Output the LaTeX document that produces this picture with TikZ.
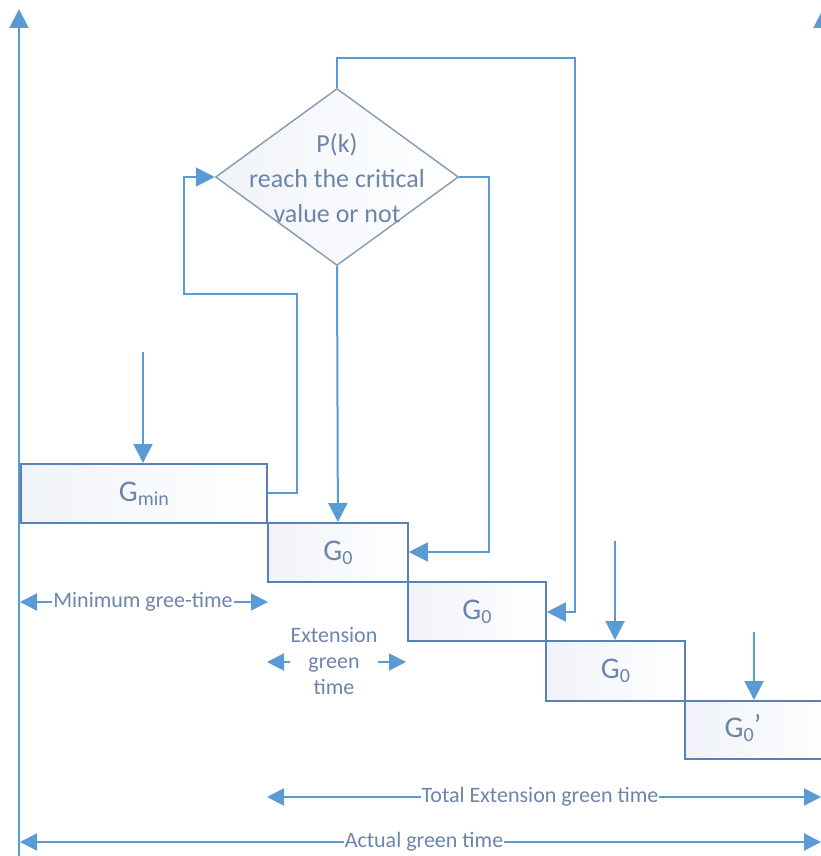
\documentclass[tikz,border=0pt]{standalone}
\usepackage{fontspec}
\setmainfont{Carlito}
\usetikzlibrary{shapes.geometric,arrows.meta}
\definecolor{linec}{RGB}{91,155,213}
\definecolor{boxc}{RGB}{88,130,182}
\definecolor{diac}{RGB}{140,158,182}
\definecolor{textc}{RGB}{108,133,170}
\definecolor{fillc}{RGB}{240,243,249}
\newcommand\mysub[1]{\raisebox{-4pt}{\fontsize{20}{20}\selectfont #1}}
\begin{document}
\begin{tikzpicture}[x=1pt,y=-1pt,
  tip/.tip={Triangle[width=19pt,length=19pt]},
  arr/.style={draw=linec,line width=2pt,-tip},
  dbl/.style={draw=linec,line width=2pt,{Triangle[width=17pt,length=17pt]}-{Triangle[width=17pt,length=17pt]}},
  box/.style={draw=boxc,line width=1.8pt,left color=fillc,right color=white,anchor=north west,inner sep=0pt,text=textc,font=\fontsize{30}{32}\selectfont},
  lab/.style={fill=white,inner sep=1pt,text=textc,font=\fontsize{22}{26}\selectfont,align=center}]
\useasboundingbox (0,0) rectangle (821,856);
% axes
\coordinate (la0) at (19,870); \coordinate (la1) at (19,9);
\coordinate (ra0) at (823,870); \coordinate (ra1) at (823,9);
\draw[arr] (la0) -- (la1);
\draw[arr] (ra0) -- (ra1);
% boxes
\node[box,minimum width=246pt,minimum height=59pt] (gmin) at (20,463) {G\mysub{min}};
\node[box,minimum width=140pt,minimum height=59pt] (g1) at (267,522) {G\mysub{0}};
\node[box,minimum width=138pt,minimum height=59pt] (g2) at (407,581) {G\mysub{0}};
\node[box,minimum width=139pt,minimum height=60pt] (g3) at (545,640) {G\mysub{0}};
\node[box,minimum width=160pt,minimum height=58pt] (g4) at (684,700) {};
\node[text=textc,font=\fontsize{30}{32}\selectfont,inner sep=0pt] (g4t) at (743,728) {G\mysub{0}\raisebox{2pt}{’}};
% diamond
\node[diamond,draw=diac,line width=1.5pt,minimum width=243pt,minimum height=177pt,inner sep=0pt,left color=fillc,right color=white] (dia) at (337,177) {};
\node[text=textc,font=\fontsize{26}{35}\selectfont,align=center] (diat) at (337,178) {P(k)\\reach the critical\\value or not};
% loops
\draw[arr] (gmin.east) -| (297,294) -| (184,177) -- (dia.west);
\draw[arr] (dia.east) -| (489,552) -- (g1.east |- 0,552);
\draw[arr] (dia.north) -- (337,58) -| (575,612) -- (g2.east |- 0,612);
\draw[arr] (dia.south) -- (g1.north);
% vertical inputs
\coordinate (s1) at (143,352); \draw[arr] (s1) -- (s1 |- gmin.north);
\coordinate (s3) at (615,541); \draw[arr] (s3) -- (s3 |- g3.north);
\coordinate (s4) at (754,632); \draw[arr] (s4) -- (s4 |- g4.north);
% dimension arrows
\coordinate (m0) at (20,602); \coordinate (m1) at (268,602);
\draw[dbl] (m0) -- (m1);
\node[lab] (mlab) at (143,602) {Minimum gree-time};
\coordinate (e0) at (267,662); \coordinate (e1) at (406,662);
\draw[dbl] (e0) -- (e1);
\node[lab] (elab) at (334,661) {Extension\\green\\time};
\coordinate (t0) at (267,797); \coordinate (t1) at (821,797);
\draw[dbl] (t0) -- (t1);
\node[lab] (tlab) at (540,797) {Total Extension green time};
\coordinate (a0) at (20,842); \coordinate (a1) at (821,842);
\draw[dbl] (a0) -- (a1);
\node[lab] (alab) at (424,842) {Actual green time};
\end{tikzpicture}
\end{document}
